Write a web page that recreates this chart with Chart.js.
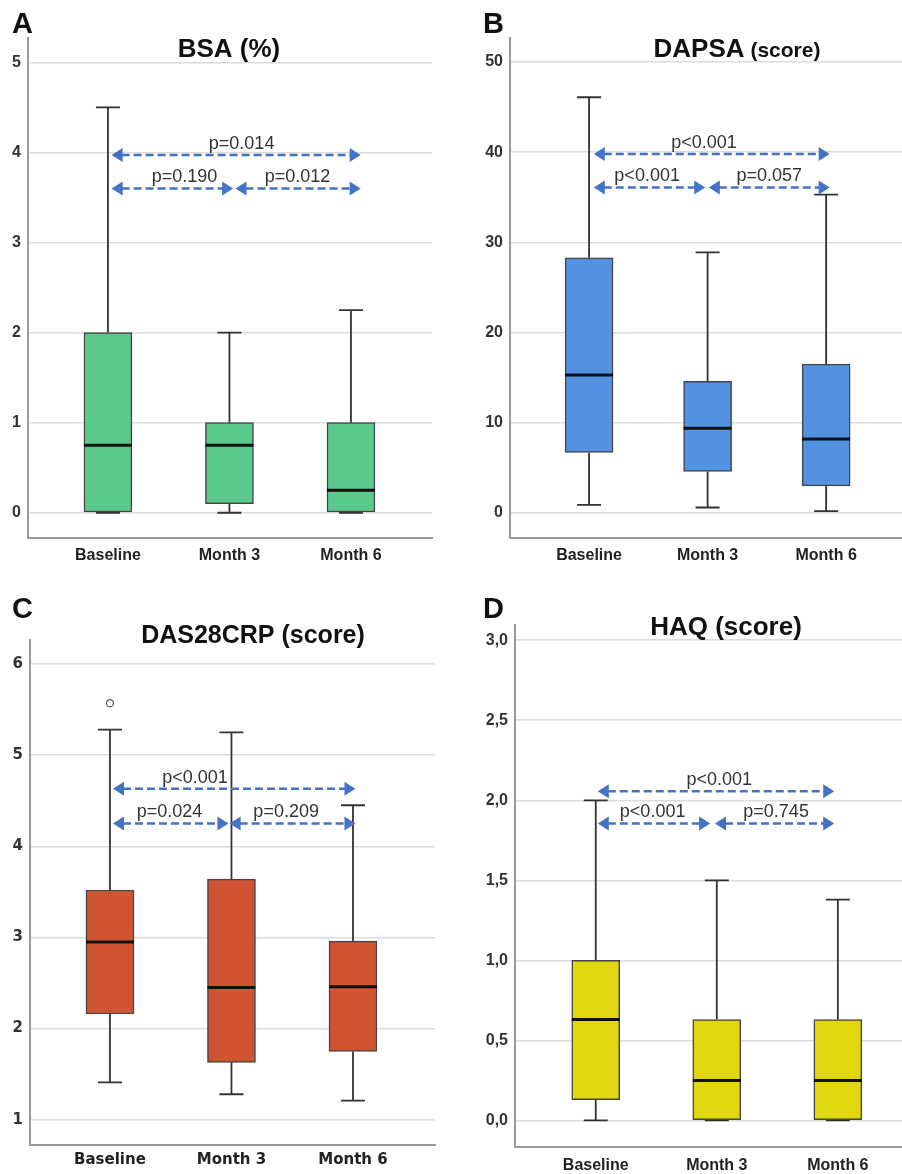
<!DOCTYPE html>
<html>
<head>
<meta charset="utf-8">
<script src="https://cdn.jsdelivr.net/npm/chart.js@4.4.1/dist/chart.umd.min.js"></script>
<style>
  body { margin: 0; background: #fff; }
  canvas.panel { position: absolute; }
</style>
</head>
<body>
<canvas id="chart-a" class="panel" width="451" height="580" style="left:0;top:0"></canvas>
<canvas id="chart-b" class="panel" width="451" height="580" style="left:451px;top:0"></canvas>
<canvas id="chart-c" class="panel" width="451" height="594" style="left:0;top:580px"></canvas>
<canvas id="chart-d" class="panel" width="451" height="594" style="left:451px;top:580px"></canvas>
<script>
const categories = ['Baseline', 'Month 3', 'Month 6'];

// five-number summaries per time point: min, q1, median, q3, max
const bsaBoxes = [[0, 0, 0.75, 2, 4.5], [0, 0.1, 0.75, 1, 2], [0, 0, 0.25, 1, 2.25]];
const dapsaBoxes = [[0.9, 6.7, 15.3, 28.3, 46.1], [0.6, 4.6, 9.4, 14.6, 28.9], [0.2, 3.0, 8.2, 16.5, 35.3]];
const das28Boxes = [[1.41, 2.16, 2.95, 3.52, 5.28], [1.28, 1.63, 2.45, 3.64, 5.25], [1.21, 1.75, 2.46, 2.96, 4.45]];
const haqBoxes = [[0, 0.13, 0.63, 1.0, 2.0], [0, 0, 0.25, 0.63, 1.5], [0, 0, 0.25, 0.63, 1.38]];
const das28Outliers = [{ x: 0, y: 5.57 }];

// comparisons: [from, to, level, label at, text]  (from/to/label at in category units)
const bsaTests = [
  [0.03, 2.08, 3.97, 1.1, 'p=0.014'],
  [0.03, 1.03, 3.6, 0.63, 'p=0.190'],
  [1.05, 2.08, 3.6, 1.56, 'p=0.012'],
];
const dapsaTests = [
  [0.04, 2.03, 39.8, 0.97, 'p<0.001'],
  [0.04, 0.98, 36.1, 0.49, 'p<0.001'],
  [1.01, 2.03, 36.1, 1.52, 'p=0.057'],
];
const das28Tests = [
  [0.025, 2.02, 4.63, 0.70, 'p<0.001'],
  [0.025, 0.975, 4.25, 0.49, 'p=0.024'],
  [0.985, 2.02, 4.25, 1.45, 'p=0.209'],
];
const haqTests = [
  [0.017, 1.97, 2.056, 1.02, 'p<0.001'],
  [0.017, 0.945, 1.855, 0.47, 'p<0.001'],
  [0.985, 1.97, 1.855, 1.49, 'p=0.745'],
];

const FONT = '"Liberation Sans", Arial, sans-serif';

function drawHead(ctx, x, y, dir) {
  ctx.beginPath();
  ctx.moveTo(x, y);
  ctx.lineTo(x - dir * 11, y - 7);
  ctx.lineTo(x - dir * 11, y + 7);
  ctx.closePath();
  ctx.fill();
}

function makePanel(id, cfg) {
  const el = document.getElementById(id);
  const boxes = cfg.boxes;

  const panelPlugin = {
    id: 'panelDecor',
    beforeDatasetsDraw(chart) {
      const { ctx } = chart;
      const xs = chart.scales.x;
      const ys = chart.scales.y;
      ctx.save();
      ctx.strokeStyle = '#333';
      ctx.lineWidth = 1.8;
      boxes.forEach((b, i) => {
        const x = xs.getPixelForValue(i);
        const pMin = ys.getPixelForValue(b[0]);
        const pQ1 = ys.getPixelForValue(b[1]);
        const pQ3 = ys.getPixelForValue(b[3]);
        const pMax = ys.getPixelForValue(b[4]);
        ctx.beginPath();
        ctx.moveTo(x, pMin); ctx.lineTo(x, pQ1);
        ctx.moveTo(x, pQ3); ctx.lineTo(x, pMax);
        ctx.moveTo(x - 12, pMin); ctx.lineTo(x + 12, pMin);
        ctx.moveTo(x - 12, pMax); ctx.lineTo(x + 12, pMax);
        ctx.stroke();
      });
      ctx.restore();
    },
    afterDatasetsDraw(chart) {
      const { ctx } = chart;
      const xs = chart.scales.x;
      const ys = chart.scales.y;
      ctx.save();

      // medians
      ctx.strokeStyle = '#111';
      ctx.lineWidth = 3;
      boxes.forEach((b, i) => {
        const x = xs.getPixelForValue(i);
        const y = ys.getPixelForValue(b[2]);
        ctx.beginPath();
        ctx.moveTo(x - 24, y);
        ctx.lineTo(x + 24, y);
        ctx.stroke();
      });

      // comparison arrows
      ctx.strokeStyle = '#4472C4';
      ctx.fillStyle = '#4472C4';
      ctx.lineWidth = 2.5;
      cfg.tests.forEach(t => {
        const x1 = xs.getPixelForValue(t[0]);
        const x2 = xs.getPixelForValue(t[1]);
        const y = ys.getPixelForValue(t[2]);
        ctx.setLineDash([8, 4]);
        ctx.beginPath();
        ctx.moveTo(x1 + 10, y);
        ctx.lineTo(x2 - 10, y);
        ctx.stroke();
        ctx.setLineDash([]);
        drawHead(ctx, x1, y, -1);
        drawHead(ctx, x2, y, 1);
      });

      ctx.fillStyle = '#333';
      ctx.font = '18px ' + FONT;
      ctx.textAlign = 'center';
      ctx.textBaseline = 'middle';
      cfg.tests.forEach(t => {
        ctx.fillText(t[4], xs.getPixelForValue(t[3]), ys.getPixelForValue(t[2]) - 11);
      });
      ctx.restore();
    },
    afterDraw(chart) {
      const { ctx } = chart;
      ctx.save();
      ctx.fillStyle = '#111';
      ctx.textBaseline = 'alphabetic';
      ctx.textAlign = 'left';
      ctx.font = 'bold 29px ' + FONT;
      ctx.fillText(cfg.letter, cfg.letterX, cfg.letterY);

      let total = 0;
      cfg.title.forEach(p => {
        ctx.font = 'bold ' + p[1] + 'px ' + FONT;
        total += ctx.measureText(p[0]).width;
      });
      let x = cfg.titleX - total / 2;
      cfg.title.forEach(p => {
        ctx.font = 'bold ' + p[1] + 'px ' + FONT;
        ctx.fillText(p[0], x, cfg.titleY);
        x += ctx.measureText(p[0]).width;
      });
      ctx.restore();
    }
  };

  const tickFont = { family: cfg.tickFamily || FONT, size: cfg.tickSize || 16, weight: 'bold' };

  new Chart(el, {
    type: 'bar',
    data: {
      datasets: [
        {
          type: 'bar',
          data: boxes.map((b, i) => ({ x: i, y: [b[1], b[3]] })),
          backgroundColor: cfg.color,
          borderColor: '#444',
          borderWidth: 1.5,
          borderSkipped: false,
          barThickness: 48,
        },
        {
          type: 'scatter',
          data: cfg.outliers || [],
          pointRadius: 3.5,
          borderColor: '#555',
          backgroundColor: '#fff',
          borderWidth: 1.3,
        },
      ],
    },
    options: {
      responsive: false,
      animation: false,
      events: [],
      layout: { padding: { top: cfg.top, right: cfg.right, left: 0, bottom: 0 } },
      plugins: { legend: { display: false }, tooltip: { enabled: false } },
      scales: {
        x: {
          type: 'linear',
          min: cfg.xMin,
          max: cfg.xMax,
          offset: false,
          grid: { display: false, drawTicks: false, offset: false },
          border: { color: '#9a9a9a', width: 2 },
          ticks: {
            stepSize: 1,
            includeBounds: false,
            autoSkip: false,
            maxRotation: 0,
            padding: cfg.xPad,
            color: '#222',
            font: tickFont,
            callback: (v) => categories[v] ?? '',
          },
          afterFit: (s) => { s.height = cfg.xAxisHeight; },
        },
        y: {
          min: cfg.yMin,
          max: cfg.yMax,
          grid: { color: '#dcdcdc', lineWidth: 1.5, drawTicks: false },
          border: { color: '#9a9a9a', width: 2 },
          ticks: {
            stepSize: cfg.yStep,
            includeBounds: false,
            padding: 7,
            color: '#333',
            font: tickFont,
            callback: cfg.yFormat || ((v) => v),
          },
          afterFit: (s) => { s.width = cfg.yAxisWidth; },
        },
      },
    },
    plugins: [panelPlugin],
  });
}

makePanel('chart-a', {
  boxes: bsaBoxes, tests: bsaTests, color: '#5BC98B',
  letter: 'A', letterX: 12, letterY: 33,
  title: [['BSA (%)', 26]], titleX: 229, titleY: 57,
  top: 38, right: 19, yAxisWidth: 28, xAxisHeight: 42, xPad: 8,
  yMin: -0.28, yMax: 5.27, yStep: 1, xMin: -0.658, xMax: 2.667,
});

makePanel('chart-b', {
  boxes: dapsaBoxes, tests: dapsaTests, color: '#5392E3',
  letter: 'B', letterX: 32, letterY: 33,
  title: [['DAPSA', 26], [' (score)', 21]], titleX: 286, titleY: 57,
  top: 38, right: 0, yAxisWidth: 59, xAxisHeight: 42, xPad: 8,
  yMin: -2.78, yMax: 52.67, yStep: 10, xMin: -0.667, xMax: 2.64,
});

makePanel('chart-c', {
  boxes: das28Boxes, tests: das28Tests, color: '#D05432', outliers: das28Outliers,
  letter: 'C', letterX: 12, letterY: 38,
  title: [['DAS28CRP (score)', 25]], titleX: 253, titleY: 63,
  top: 60, right: 16, yAxisWidth: 30, xAxisHeight: 29, xPad: 6,
  tickFamily: '"DejaVu Sans", Verdana, sans-serif', tickSize: 15,
  yMin: 0.723, yMax: 6.263, yStep: 1, xMin: -0.658, xMax: 2.675,
});

makePanel('chart-d', {
  boxes: haqBoxes, tests: haqTests, color: '#E2D60E',
  letter: 'D', letterX: 32, letterY: 38,
  title: [['HAQ (score)', 26]], titleX: 275, titleY: 55,
  top: 45, right: 0, yAxisWidth: 64, xAxisHeight: 27, xPad: 9,
  yMin: -0.166, yMax: 3.095, yStep: 0.5, xMin: -0.667, xMax: 2.53,
  yFormat: (v) => v.toFixed(1).replace('.', ','),
});
</script>
</body>
</html>
